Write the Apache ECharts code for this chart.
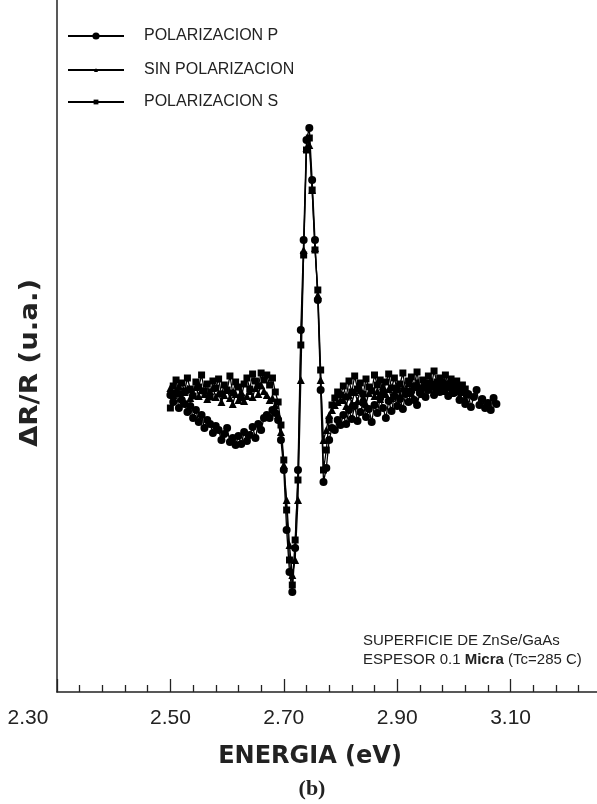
<!DOCTYPE html>
<html><head><meta charset="utf-8">
<script src="https://cdn.jsdelivr.net/npm/echarts@6/dist/echarts.min.js"></script>
<style>html,body{margin:0;padding:0;background:#fff}#c{width:597px;height:804px}</style>
</head><body><div id="c"></div>
<script>
// Photon energy (eV)
const energy = [
2.500,2.505,2.510,2.515,2.520,2.525,2.530,2.535,2.540,2.545,
2.550,2.555,2.560,2.565,2.570,2.575,2.580,2.585,2.590,2.595,
2.600,2.605,2.610,2.615,2.620,2.625,2.630,2.635,2.640,2.645,
2.650,2.655,2.660,2.665,2.670,2.675,2.680,2.685,2.690,2.695,
2.700,2.705,2.710,2.715,2.720,2.725,2.730,2.735,2.740,2.745,
2.750,2.755,2.760,2.765,2.770,2.775,2.780,2.785,2.790,2.795,
2.800,2.805,2.810,2.815,2.820,2.825,2.830,2.835,2.840,2.845,
2.850,2.855,2.860,2.865,2.870,2.875,2.880,2.885,2.890,2.895,
2.900,2.905,2.910,2.915,2.920,2.925,2.930,2.935,2.940,2.945,
2.950,2.955,2.960,2.965,2.970,2.975,2.980,2.985,2.990,2.995,
3.000,3.005,3.010,3.015,3.020,3.025,3.030,3.035,3.040,3.045,
3.050,3.055,3.060,3.065,3.070,3.075];

// ΔR/R (arbitrary units)
const polP = [
5,-2,7,-8,0,-4,-12,-6,-18,-10,
-22,-15,-28,-20,-24,-33,-26,-30,-40,-34,
-28,-42,-38,-45,-36,-44,-32,-41,-35,-27,
-38,-24,-30,-18,
-15,-18,-10,-13,-20,-40,-70,-130,-172,-192,
-148,-70,70,160,260,272,220,160,100,10,
-82,-68,-40,-28,-30,-20,-25,
-15,-24,-10,-19,-6,-21,-12,-3,-17,-9,
-22,-5,-13,2,-8,-18,-1,-11,4,-6,
1,-9,6,-2,9,0,-5,7,12,3,
10,16,5,13,8,18,11,4,15,7,
13,0,9,-4,6,-7,3,10,-5,1,
-8,-3,-10,2,-4];

const sinPol = [
12,5,9,14,3,8,11,2,7,13,
4,10,6,1,9,12,3,7,-2,5,
10,2,-4,6,0,8,-1,4,9,3,
12,6,15,9,
5,0,2,-5,-15,-32,-65,-100,-145,-175,
-160,-100,20,150,252,255,210,152,105,20,
-40,-30,-15,-10,-5,-2,0,
0,-6,5,-3,8,-1,10,3,-4,7,
12,4,9,1,14,6,11,2,8,15,
5,12,9,17,7,13,18,10,6,15,
11,19,8,14,12,16,9,13,7,11,
10,4,8,2];

const polS = [
-8,14,20,6,17,9,22,11,4,18,
13,25,9,16,3,19,12,21,6,15,
10,24,7,18,13,2,16,22,11,26,
19,14,27,20,
25,15,22,8,-2,-25,-60,-110,-160,-185,
-140,-80,55,145,250,262,210,150,110,30,
-70,-50,-20,-5,2,8,5,
14,3,19,8,24,11,17,6,21,13,
9,25,15,20,7,18,26,12,22,10,
16,27,9,19,23,14,28,11,20,17,
24,13,29,18,22,10,25,16,21,12,
19,8,15,11,5];

const seriesNames = ['POLARIZACION P', 'SIN POLARIZACION', 'POLARIZACION S'];
const xTickLabels = ['2.30', '2.50', '2.70', '2.90', '3.10'];
const noteLine1 = 'SUPERFICIE DE ZnSe/GaAs';
const noteLine2a = 'ESPESOR 0.1 ';
const noteLine2b = 'Micra';
const noteLine2c = ' (Tc=285 C)';

function pairs(vals) { return vals.map((v, i) => [energy[i], v]); }

const chart = echarts.init(document.getElementById('c'), null, {renderer: 'canvas'});

const lineStyle = {color: '#000', width: 1.3};
function mkSeries(name, vals, symbol, size) {
  return {
    name: name, type: 'line', data: pairs(vals), symbol: symbol, symbolSize: size,
    showAllSymbol: true, lineStyle: lineStyle, itemStyle: {color: '#000'},
    emphasis: {disabled: true}, animation: false
  };
}

function mkLegend(name, top, h) {
  return {
    data: [name], left: 67, top: top, padding: 0, itemWidth: 56, itemHeight: h,
    selectedMode: false,
    textStyle: {fontFamily: 'Liberation Sans', fontSize: 16, color: '#222', padding: [0, 0, 0, 15]}
  };
}

chart.setOption({
  animation: false,
  backgroundColor: '#fff',
  grid: {left: 57, width: 567, top: 0, bottom: 112, containLabel: false, outerBoundsMode: 'none'},
  legend: [
    mkLegend(seriesNames[0], 28, 9),
    mkLegend(seriesNames[1], 62, 5),
    mkLegend(seriesNames[2], 94, 6)
  ],
  xAxis: {
    type: 'value', min: 2.30, max: 3.30, interval: 0.2,
    axisLine: {show: true, onZero: false, lineStyle: {color: '#222', width: 1.5}},
    axisTick: {show: true, inside: true, length: 13, lineStyle: {color: '#222', width: 1.3}},
    minorTick: {show: true, splitNumber: 5, length: 7, lineStyle: {color: '#222', width: 1.3}},
    splitLine: {show: false},
    axisLabel: {
      margin: 16, fontFamily: 'Liberation Sans', fontSize: 21, color: '#222',
      formatter: function (v) {
        const s = v.toFixed(2);
        if (xTickLabels.indexOf(s) < 0) return '';
        return s === xTickLabels[0] ? '{m|' + s + '}' : s;
      },
      rich: {m: {fontFamily: 'Liberation Sans', fontSize: 21, color: '#222', padding: [0, 58, 0, 0]}}
    }
  },
  yAxis: {
    type: 'value', min: -292, max: 400,
    axisLine: {show: true, onZero: false, lineStyle: {color: '#222', width: 1.5}},
    axisTick: {show: false}, axisLabel: {show: false}, splitLine: {show: false}
  },
  series: [
    mkSeries(seriesNames[0], polP, 'circle', 8),
    mkSeries(seriesNames[1], sinPol, 'triangle', 8),
    mkSeries(seriesNames[2], polS, 'rect', 7)
  ],
  graphic: [
    {type: 'text', x: 31, y: 363, rotation: Math.PI / 2, scaleX: 1.15,
     style: {text: 'ΔR/R (u.a.)', fontFamily: 'DejaVu Sans', fontWeight: 'bold', fontSize: 24,
             fill: '#222', align: 'center', verticalAlign: 'middle'}},
    {type: 'text', x: 310, y: 757,
     style: {text: 'ENERGIA (eV)', fontFamily: 'DejaVu Sans', fontWeight: 'bold', fontSize: 24,
             fill: '#222', align: 'center', verticalAlign: 'middle'}},
    {type: 'text', x: 312, y: 789,
     style: {text: '(b)', fontFamily: 'Liberation Serif', fontWeight: 'bold', fontSize: 22,
             fill: '#222', align: 'center', verticalAlign: 'middle'}},
    {type: 'text', x: 363, y: 641,
     style: {text: noteLine1, fontFamily: 'Liberation Sans', fontSize: 15,
             fill: '#222', align: 'left', verticalAlign: 'middle'}},
    {type: 'text', x: 363, y: 660,
     style: {text: noteLine2a + '{b|' + noteLine2b + '}' + noteLine2c, fontFamily: 'Liberation Sans', fontSize: 15,
             fill: '#222', align: 'left', verticalAlign: 'middle',
             rich: {b: {fontFamily: 'Liberation Sans', fontSize: 15, fontWeight: 'bold', fill: '#222'}}}}
  ]
});
</script>
</body></html>
